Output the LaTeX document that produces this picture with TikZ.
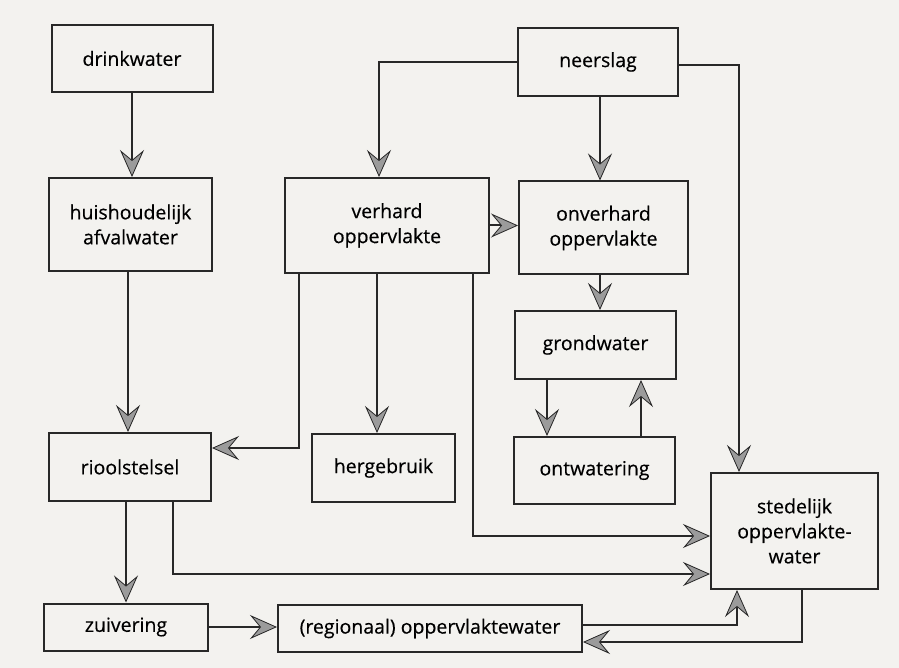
\documentclass[tikz,border=0pt]{standalone}
\usepackage{fontspec}
\setmainfont{Open Sans}
\newfontfamily\boxfont{Open Sans}[FakeBold=0.4]
\usetikzlibrary{arrows.meta}
\definecolor{paper}{RGB}{243,242,239}
\definecolor{ink}{RGB}{40,40,40}
\definecolor{tipfill}{RGB}{155,155,155}
\begin{document}
\begin{tikzpicture}[x=1pt,y=-1pt,
  box/.style={draw=ink,line width=2pt,fill=paper,align=center,text=black,
    font=\boxfont\fontsize{19.5}{25}\selectfont,inner sep=0pt},
  flow/.style={draw=ink,line width=2pt,line join=miter,
    -{Stealth[length=27pt,width=24pt,inset=10pt,fill=tipfill,line width=0.8pt]}}]
\fill[paper] (0,0) rectangle (899,668);
\useasboundingbox (0,0) rectangle (899,668);

\node[box,minimum width=161pt,minimum height=67pt] (dw) at (132,58.5) {drinkwater};
\node[box,minimum width=163pt,minimum height=93pt] (ha) at (130.5,224.5) {huishoudelijk\\afvalwater};
\node[box,minimum width=160pt,minimum height=68pt] (ns) at (598,62) {neerslag};
\node[box,minimum width=204pt,minimum height=95pt] (vh) at (387,225.5) {verhard\\oppervlakte};
\node[box,minimum width=169pt,minimum height=93pt] (ov) at (603.5,228) {onverhard\\oppervlakte};
\node[box,minimum width=161pt,minimum height=68pt] (gw) at (595.5,345) {grondwater};
\node[box,minimum width=161pt,minimum height=67pt] (ot) at (594.5,470.5) {ontwatering};
\node[box,minimum width=143pt,minimum height=68pt] (hg) at (383.5,468) {hergebruik};
\node[box,minimum width=162pt,minimum height=68pt] (rs) at (130,467) {rioolstelsel};
\node[box,minimum width=167pt,minimum height=116pt] (sw) at (794.5,531) {stedelijk\\oppervlakte-\\water};
\node[box,minimum width=164pt,minimum height=47pt] (zv) at (126,627) {zuivering};
\node[box,minimum width=304pt,minimum height=47pt] (rg) at (430,628.5) {(regionaal) oppervlaktewater};

% connectors
\draw[flow] (dw.south) -- (dw.south |- ha.north);
\draw[flow] ([xshift=-2.5pt]ha.south) -- ([xshift=-2.5pt]ha.south |- rs.north);
\draw[flow] ([xshift=-4pt]rs.south) -- ([xshift=-4pt]rs.south |- zv.north);
\draw[flow] (zv.east) -- (zv.east -| rg.west);
\draw[flow] (ns.west) -| ([xshift=-8pt]vh.north);
\draw[flow] ([xshift=2pt]ns.south) -- ([xshift=2pt]ns.south |- ov.north);
\draw[flow] ([yshift=-3pt]ns.east) -| ([xshift=-55.5pt]sw.north);
\draw[flow] (vh.east) -- (vh.east -| ov.west);
\draw[flow] ([xshift=-88pt]vh.south) |- ([yshift=19pt]rs.east);
\draw[flow] ([xshift=-10pt]vh.south) -- ([xshift=-10pt]vh.south |- hg.north);
\draw[flow] ([xshift=86pt]vh.south) |- ([yshift=-5pt]sw.west);
\draw[flow] ([xshift=-3.5pt]ov.south) -- ([xshift=-3.5pt]ov.south |- gw.north);
\draw[flow] ([xshift=-48.5pt]gw.south) -- ([xshift=-48.5pt]gw.south |- ot.north);
\draw[flow] ([xshift=46.5pt]ot.north) -- ([xshift=46.5pt]ot.north |- gw.south);
\draw[flow] ([xshift=43pt]rs.south) |- ([yshift=-43pt]sw.west);
\draw[flow] ([yshift=3.5pt]rg.east) -| ([xshift=-57.5pt]sw.south);
\draw[flow] ([xshift=7.5pt]sw.south) |- ([yshift=-13.5pt]rg.east);
\end{tikzpicture}
\end{document}
